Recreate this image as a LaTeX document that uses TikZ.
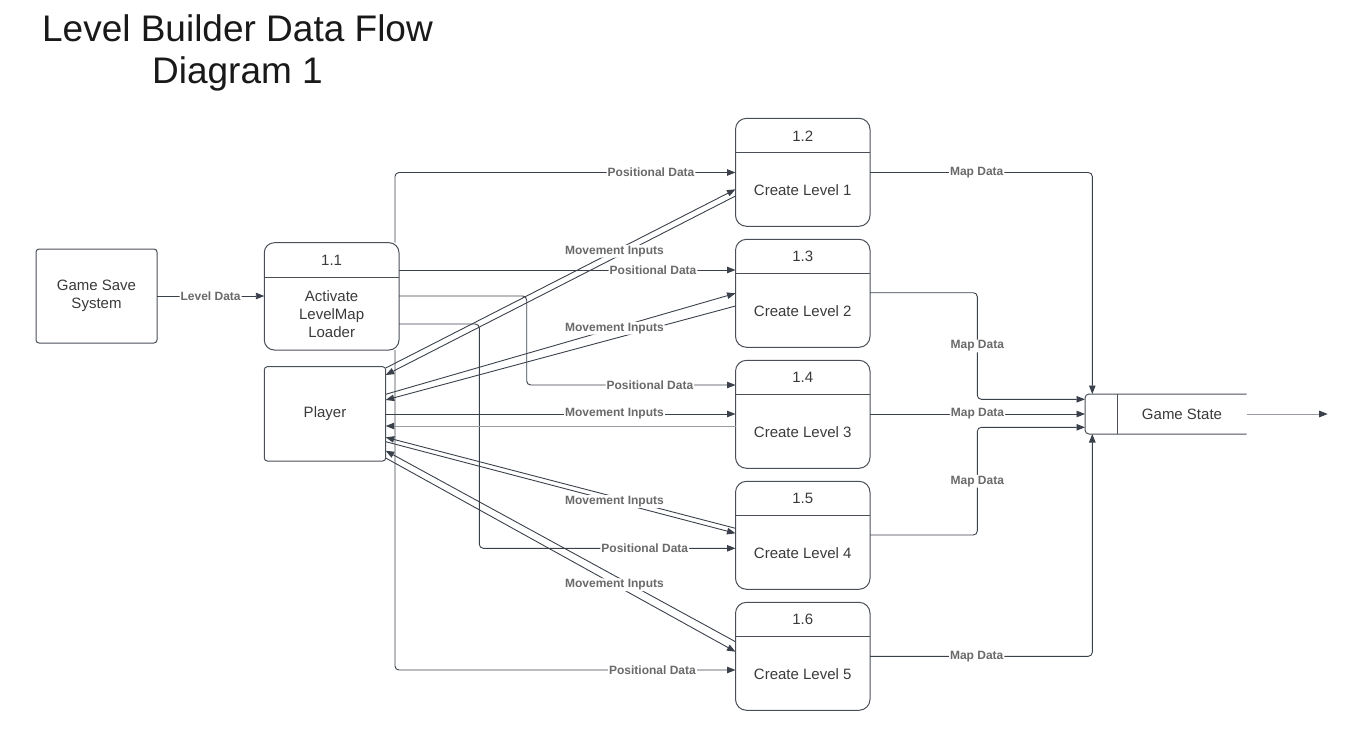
\documentclass[tikz,border=0pt]{standalone}
\usepackage{fontspec}
\setmainfont{Liberation Sans}
\usetikzlibrary{arrows.meta,calc}
\definecolor{linec}{HTML}{3B414B}
\definecolor{boxc}{HTML}{4A4F57}
\definecolor{lightc}{HTML}{9A9EA4}
\definecolor{txtc}{HTML}{3A3A3A}
\definecolor{lblc}{HTML}{6A6A6A}
\begin{document}
\begin{tikzpicture}[x=1pt,y=-1pt,
  proc/.style={draw=boxc,line width=1pt,rounded corners=11pt,minimum width=134.5pt,minimum height=108pt,anchor=north west,inner sep=0pt,outer sep=0pt},
  ent/.style={draw=boxc,line width=1pt,rounded corners=3pt,anchor=north west,inner sep=0pt,outer sep=0pt},
  btxt/.style={text=txtc,font=\fontsize{15}{17.7}\selectfont,align=center,inner sep=0pt},
  flow/.style={draw=linec,line width=0.9pt,-{Triangle[length=8.5pt,width=6.5pt,color=linec]},rounded corners=4pt},
  lflow/.style={flow,draw=lightc},
  lbl/.style={fill=white,text=lblc,font=\bfseries\fontsize{12}{12}\selectfont,inner sep=1pt},
  ttl/.style={anchor=base,text=black!90,font=\fontsize{37}{41.7}\selectfont},
]
\useasboundingbox (0,0) rectangle (1347,737);

% title
\node[ttl] (t1) at (237.5,41.7) {Level Builder Data Flow};
\node[ttl] (t2) at (237.5,83.3) {Diagram 1};

% left entities and process 1.1
\node[ent,btxt,minimum width=121pt,minimum height=94pt] (gss) at (36,249) {Game Save\\System};
\node[proc,minimum width=134.7pt,minimum height=107.3pt,rounded corners=10pt] (p11) at (264.3,242.7) {};
\draw[boxc,line width=1pt] ($(p11.north west)+(0,35)$) -- ($(p11.north east)+(0,35)$);
\node[btxt] (p11h) at ($(p11.north)+(0,17.5)$) {1.1};
\node[btxt] (p11b) at ($(p11.north)+(0,71.6)$) {Activate\\LevelMap\\Loader};
\node[ent,btxt,minimum width=121.4pt,minimum height=94.3pt] (pl) at (264.3,366.7) {Player};

% create level processes
\foreach \n/\t [count=\k from 0] in {2/1,3/2,4/3,5/4,6/5} {
  \node[proc] (b\n) at (735.5,{118.3+121*\k}) {};
  \draw[boxc,line width=1pt] ($(b\n.north west)+(0,34.5)$) -- ($(b\n.north east)+(0,34.5)$);
  \node[btxt] (h\n) at ($(b\n.north)+(0,17.5)$) {1.\n};
  \node[btxt] (c\n) at ($(b\n.north)+(0,72)$) {Create Level \t};
}

% game state data store
\node[minimum width=161.7pt,minimum height=40pt,anchor=north west,inner sep=0pt,outer sep=0pt] (gs) at (1085,394) {};
\draw[boxc,line width=1pt,rounded corners=4pt] (gs.north east) -- (gs.north west) -- (gs.south west) -- (gs.south east);
\draw[boxc,line width=1pt] ($(gs.north west)+(32.3,0)$) -- ($(gs.south west)+(32.3,0)$);
\node[btxt] (gst) at ($(gs.center)+(16.15,0)$) {Game State};
\coordinate (out) at (1327.7,414);

% level data
\draw[flow] (gss.east) -- node[lbl]{Level Data} (gss.east -| p11.west);

% positional data
\draw[flow] ($(p11.north east)+(-4,0)$) |- node[lbl,pos=0.876]{Positional Data} ($(b2.north west)+(0,54.2)$);
\draw[flow] ($(p11.north east)+(0,27.3)$) -- node[lbl,pos=0.755]{Positional Data} ($(b3.north west)+(0,30.7)$);
\draw[flow] ($(p11.north east)+(0,53.3)$) -- ++(127.7,0) |- node[lbl,pos=0.795]{Positional Data} ($(b4.north west)+(0,24.7)$);
\draw[flow] ($(p11.north east)+(0,81.3)$) -- ++(80.3,0) |- node[lbl,pos=0.823]{Positional Data} ($(b5.north west)+(0,67)$);
\draw[flow] ($(p11.south east)+(-4,0)$) |- node[lbl,pos=0.878]{Positional Data} ($(b6.north west)+(0,67.7)$);

% movement inputs
\draw[flow] ($(b2.north west)+(0,77.7)$) -- ($(pl.north east)+(0,8.3)$);
\draw[flow] ($(pl.north east)+(0,1.3)$) -- node[lbl,pos=0.654]{Movement Inputs} ($(b2.north west)+(0,71)$);
\draw[flow] ($(b3.north west)+(0,66.7)$) -- ($(pl.north east)+(0,33.3)$);
\draw[flow] ($(pl.north east)+(0,27.6)$) -- node[lbl,pos=0.654]{Movement Inputs} ($(b3.north west)+(0,54)$);
\draw[lflow] ($(b4.north west)+(0,65.7)$) -- ($(pl.north east)+(0,59.3)$);
\draw[flow] ($(pl.north east)+(0,47.3)$) -- node[lbl,pos=0.654]{Movement Inputs} ($(b4.north west)+(0,53.7)$);
\draw[flow] ($(b5.north west)+(0,47)$) -- ($(pl.north east)+(0,70.6)$);
\draw[flow] ($(pl.north east)+(0,75)$) -- node[lbl,pos=0.654]{Movement Inputs} ($(b5.north west)+(0,52)$);
\draw[flow] ($(b6.north west)+(0,39.4)$) -- ($(pl.north east)+(0,84)$);
\draw[flow] ($(pl.north east)+(0,91.3)$) -- node[lbl,pos=0.654]{Movement Inputs} ($(b6.north west)+(0,49.4)$);

% map data
\draw[flow] ($(b2.north east)+(0,54.2)$) -| node[lbl,pos=0.24]{Map Data} ($(gs.north west)+(7.3,0)$);
\draw[flow] ($(b3.north east)+(0,53.4)$) -- ++(107.3,0) -- node[lbl]{Map Data} ++(0,106.6) -- ($(gs.north west)+(0,5.3)$);
\draw[flow] ($(b4.north east)+(0,53.7)$) -- node[lbl]{Map Data} (gs.west);
\draw[flow] ($(b5.north east)+(0,53.7)$) -- ++(107.3,0) -- node[lbl]{Map Data} ++(0,-107.7) -- ($(gs.south west)+(0,-6.7)$);
\draw[flow] ($(b6.north east)+(0,54)$) -| node[lbl,pos=0.24]{Map Data} ($(gs.south west)+(7.3,0)$);

% output
\draw[lflow] (gs.east) -- (out);
\end{tikzpicture}
\end{document}
